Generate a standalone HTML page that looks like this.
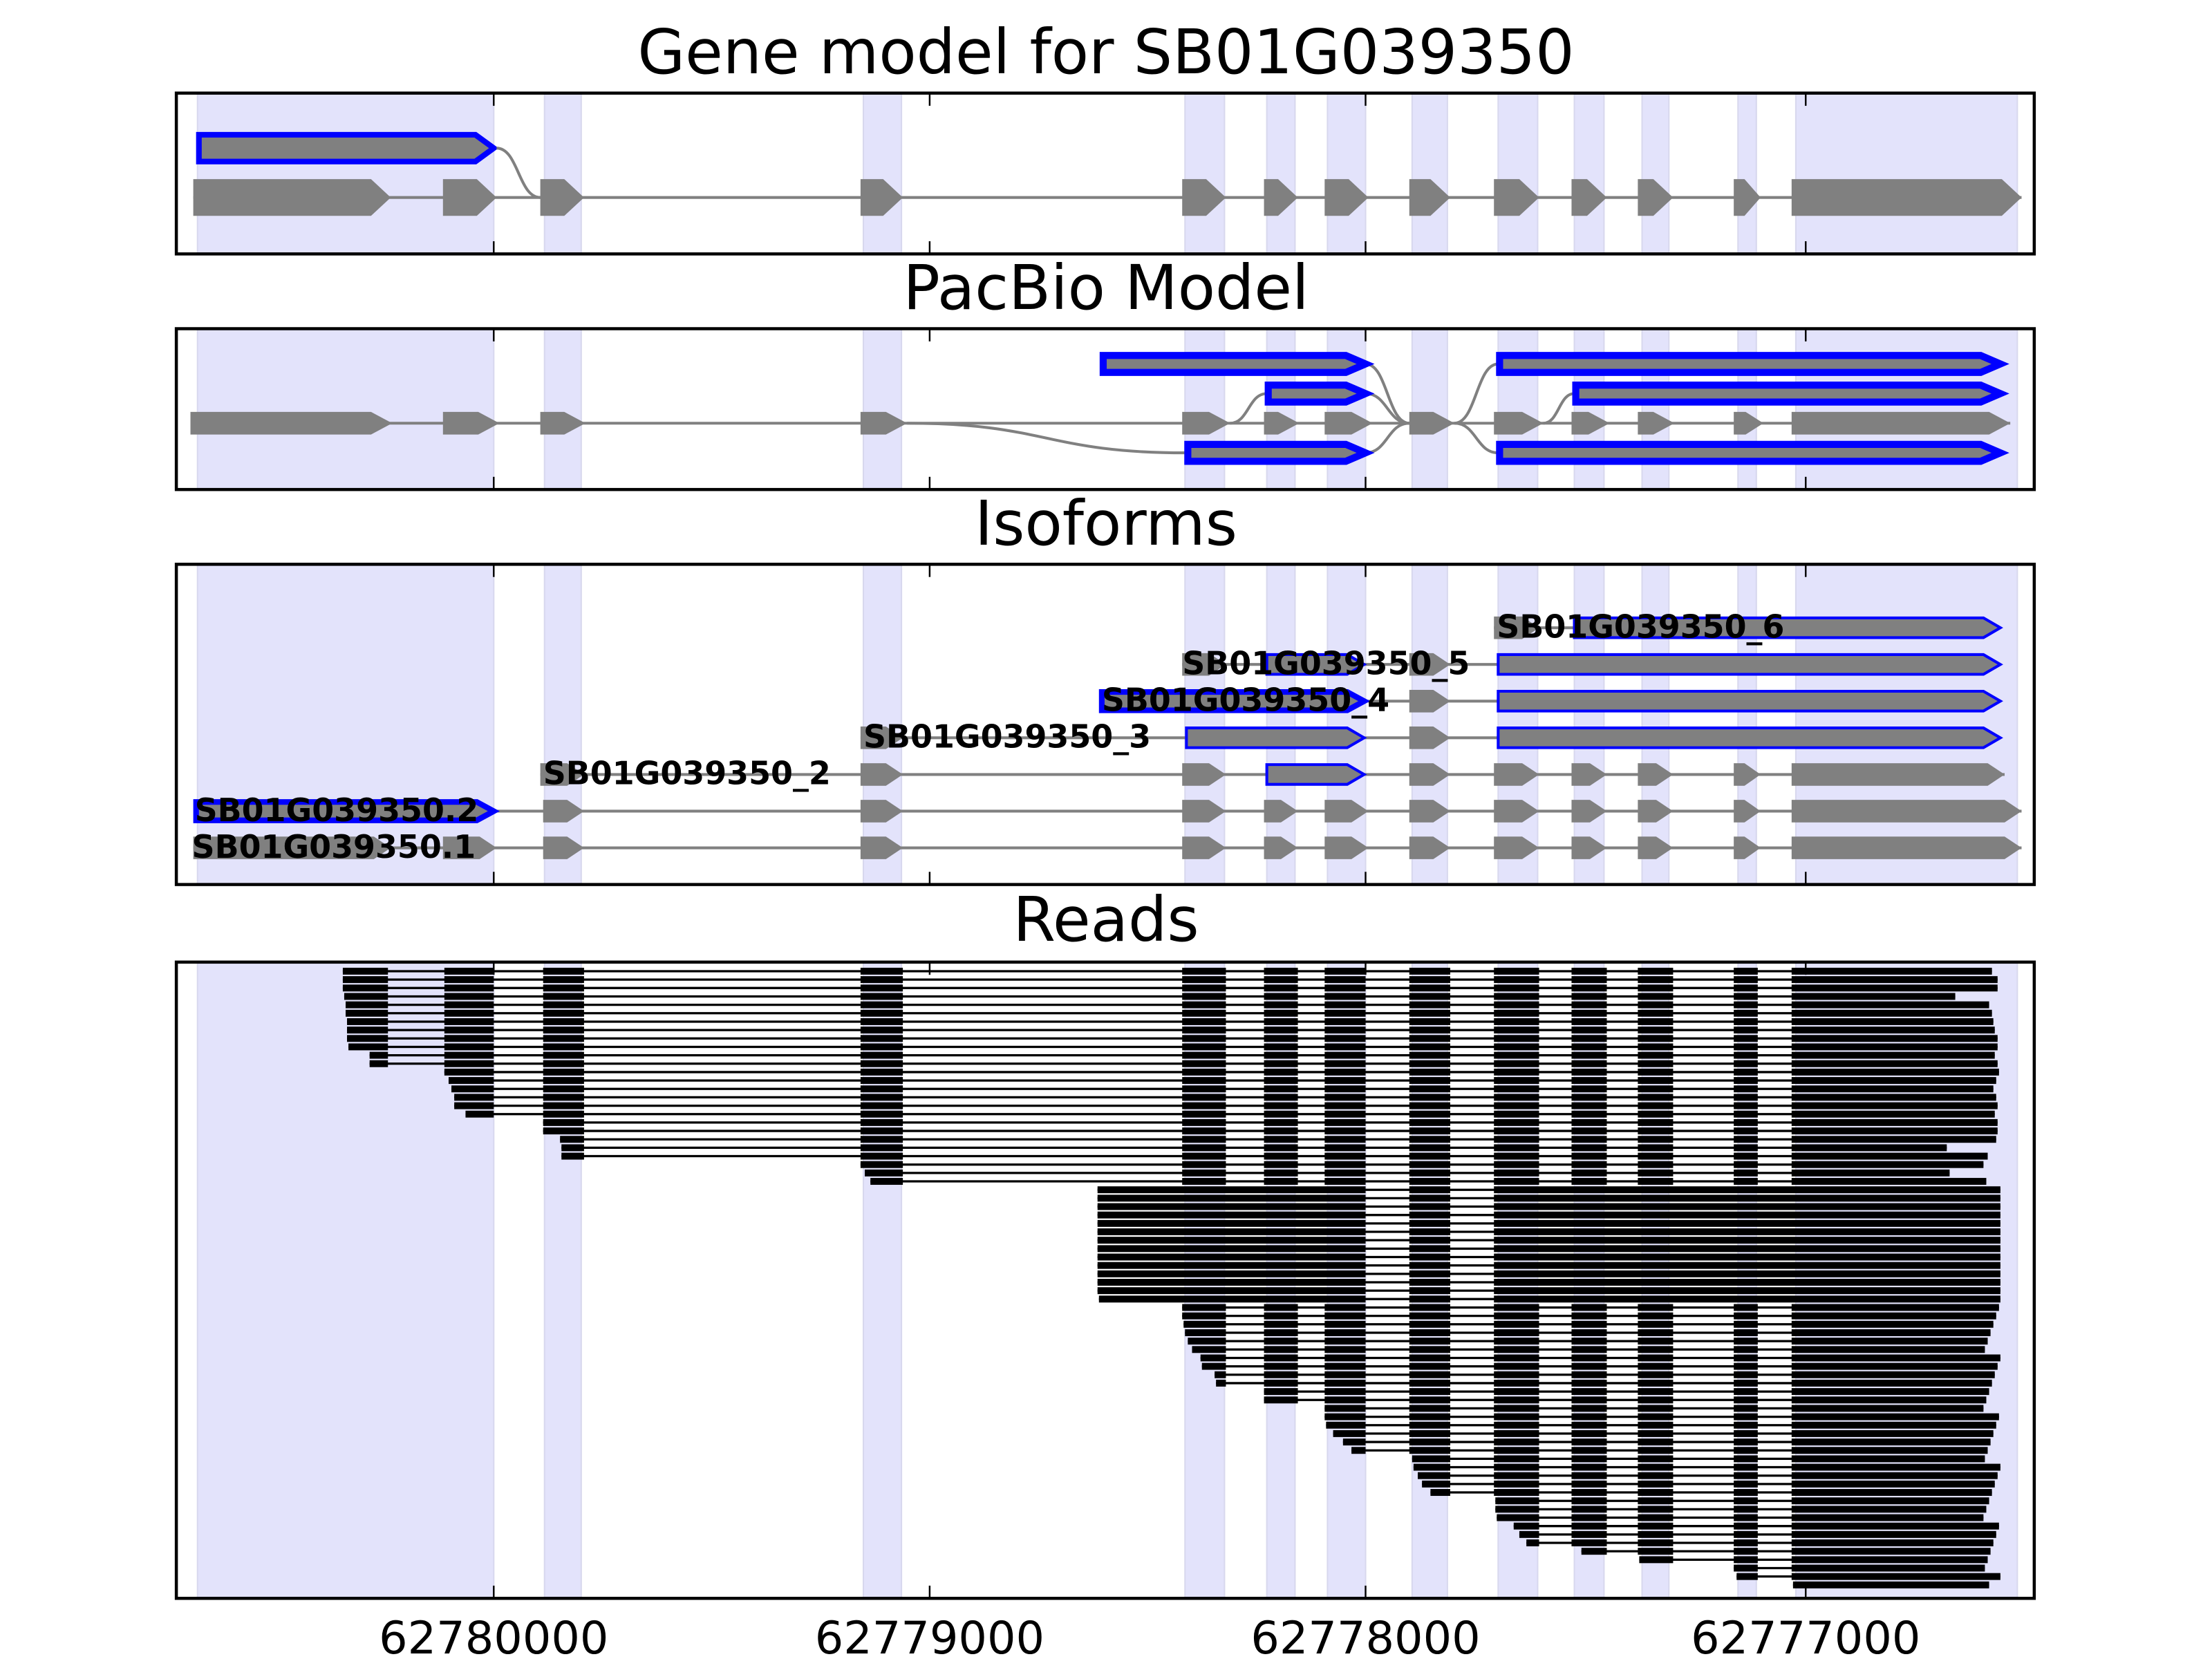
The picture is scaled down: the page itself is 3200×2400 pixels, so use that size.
<!DOCTYPE html>
<html><head><meta charset="utf-8"><style>
html,body{margin:0;padding:0;background:#fff;}
svg{display:block;}
text{font-family:"DejaVu Sans","Liberation Sans",sans-serif;}
</style></head><body>
<svg id="s" width="3200" height="2400" viewBox="0 0 1568 1176" xmlns="http://www.w3.org/2000/svg">
<rect width="1568" height="1176" fill="#fff"/>
<g id="g"></g>
<text x="784" y="52" font-size="43.5" text-anchor="middle">Gene model for SB01G039350</text>
<text x="784" y="219" font-size="43.5" text-anchor="middle">PacBio Model</text>
<text x="784" y="386" font-size="43.5" text-anchor="middle">Isoforms</text>
<text x="784" y="667" font-size="43.5" text-anchor="middle">Reads</text>
<text x="350" y="1172" font-size="32" text-anchor="middle">62780000</text>
<text x="659" y="1172" font-size="32" text-anchor="middle">62779000</text>
<text x="968" y="1172" font-size="32" text-anchor="middle">62778000</text>
<text x="1280" y="1172" font-size="32" text-anchor="middle">62777000</text>
</svg>
<script>
var o='';
var shade=[[140,350],[386,412],[612,639],[840,868],[898,918],[941,968],[1001,1026],[1062,1090],[1116,1137],[1164,1183],[1232,1245],[1273,1430]];
var panels=[[66,180],[233,347],[400,627],[682,1133]];
var G='#808080',B='#0000ff';
function arrow(x1,x2,yc,h,tip,fill,stroke,sw){
 tip=Math.min(tip,(x2-x1)*0.6);
 var p=[[x1,yc-h/2],[x2-tip,yc-h/2],[x2,yc],[x2-tip,yc+h/2],[x1,yc+h/2]].map(function(a){return a[0]+','+a[1]}).join(' ');
 o+='<polygon points="'+p+'" fill="'+fill+'"'+(stroke?' stroke="'+stroke+'" stroke-width="'+sw+'" stroke-linejoin="miter"':'')+'/>';
}
function line(x1,x2,y,c,w){o+='<line x1="'+x1+'" x2="'+x2+'" y1="'+y+'" y2="'+y+'" stroke="'+(c||G)+'" stroke-width="'+(w||2)+'"/>';}
function curve(x1,y1,x2,y2){var m=(x1+x2)/2;o+='<path d="M'+x1+','+y1+' C'+m+','+y1+' '+m+','+y2+' '+x2+','+y2+'" fill="none" stroke="'+G+'" stroke-width="2"/>';}
function rect(x,y,w,h,c){o+='<rect x="'+x+'" y="'+y+'" width="'+w+'" height="'+h+'" fill="'+c+'"/>';}
panels.forEach(function(p){shade.forEach(function(s){o+='<rect x="'+s[0]+'" y="'+p[0]+'" width="'+(s[1]-s[0])+'" height="'+(p[1]-p[0])+'" fill="#e3e3fb" stroke="#d8d8ee" stroke-width="1"/>';});});
var full=[[137,277],[314,352],[383,414],[610,640],[838,869],[896,920],[939,970],[999,1028],[1059,1091],[1114,1139],[1161,1186],[1229,1248],[1270,1433]];
line(137,1433,140);
full.forEach(function(e){arrow(e[0],e[1],140,26,14,G);});
arrow(141,350,105,19,13,G,B,4);
curve(352,105,383,140);
var p2=[[135,278],[314,354],[383,415],[610,643],[838,872],[896,921],[939,973],[999,1031],[1059,1094],[1114,1141],[1161,1187],[1229,1250],[1270,1425]];
line(135,1425,300);
p2.forEach(function(e){arrow(e[0],e[1],300,16,15,G);});
curve(643,300,840,321);curve(872,300,898,279);
curve(968,258,999,300);curve(968,279,999,300);curve(968,321,999,300);
curve(1031,300,1062,258);curve(1031,300,1062,321);curve(1094,300,1116,279);
arrow(782,968,258,12,14,G,B,5);
arrow(899,968,279,12,14,G,B,5);
arrow(842,968,321,12,14,G,B,5);
arrow(1063,1418,258,12,14,G,B,5);
arrow(1117,1418,279,12,14,G,B,5);
arrow(1063,1418,321,12,14,G,B,5);
function iso(y,ex,lab,lx){
 var a=ex[0][0],b=ex[ex.length-1][1];line(a,b,y);
 ex.forEach(function(e){ if(e[2]) arrow(e[0],e[1],y,e[2]==2?13:14,12,G,B,e[2]==2?4:2); else arrow(e[0],e[1],y,16,12,G);});
 o+='<text x="'+lx+'" y="'+(y+7)+'" font-size="22.5" font-weight="bold">'+lab+'</text>';
}
var tail=[[999,1028],[1059,1091],[1114,1139],[1161,1186],[1229,1248]];
iso(601,[[137,277],[314,352],[385,414],[610,640],[838,869],[896,920],[939,970]].concat(tail,[[1270,1433]]),'SB01G039350.1',136);
iso(575,[[139,350,2],[385,414],[610,640],[838,869],[896,920],[939,970]].concat(tail,[[1270,1433]]),'SB01G039350.2',138);
iso(549,[[383,414],[610,640],[838,869],[898,967,1]].concat(tail,[[1270,1421]]),'SB01G039350_2',385);
iso(523,[[610,640],[841,967,1],[999,1028],[1062,1418,1]],'SB01G039350_3',612);
iso(497,[[781,967,2],[999,1028],[1062,1418,1]],'SB01G039350_4',781);
iso(471,[[838,869],[898,967,1],[999,1028],[1062,1418,1]],'SB01G039350_5',838);
iso(445,[[1059,1091],[1116,1418,1]],'SB01G039350_6',1061);
var std=[[315,350],[385,414],[610,640],[838,869],[896,920],[939,968],[999,1028],[1059,1091],[1114,1139],[1161,1186],[1229,1246],[1270,9999]];
var longEx=[[778,968],[999,1028],[1059,9999]];
var starts=[243,243,243,244,245,245,246,246,246,247,262,262,315,318,320,322,322,330,385,385,397,398,398,610,613,617];
var rows=[];
starts.forEach(function(s){rows.push({ex:std,s:s});});
for(var i=0;i<14;i++)rows.push({ex:longEx,s:(i==13?779:778)});
[838,838,839,840,842,845,851,852,861,862].forEach(function(s){rows.push({ex:std,s:s});});
[896,896,939,939,940,945,952,958].forEach(function(s){rows.push({ex:std,s:s});});
[1001,1002,1005,1008,1014,1060,1060,1061,1073,1077,1082].forEach(function(s){rows.push({ex:std,s:s});});
[1121,1162,1229,1231].forEach(function(s){rows.push({ex:std,s:s});});
rows.push({ex:std,s:1271});
var ends=[1412,1416,1416,1386,1410,1412,1413,1414,1416,1416,1414,1416,1417,1415,1413,1415,1416,1414,1416,1416,1415,1380,1409,1406,1382,1408];
var n=rows.length,pitch=(1127-686)/n;
rows.forEach(function(r,i){
 var y=686+i*pitch, h=pitch*0.82;
 var e=(i<ends.length)?ends[i]:(1406+((i*37)%13));
 if(i>=26&&i<40)e=1418;
 if(i==n-1)e=1410;
 var segs=[];
 r.ex.forEach(function(x){var a=Math.max(x[0],r.s),b=Math.min(x[1],e);if(b>a&&x[1]>r.s)segs.push([a,b]);});
 if(r.s<315&&r.ex===std)segs.unshift([r.s,275]);
 if(!segs.length)return;
 line(segs[0][0],segs[segs.length-1][1],y+h/2,'#000',1.6);
 segs.forEach(function(sg){rect(sg[0],y,sg[1]-sg[0],h,'#000');});
});
var tx=[350,659,968,1280];
panels.forEach(function(p){
 tx.forEach(function(x){o+='<line x1="'+x+'" x2="'+x+'" y1="'+p[0]+'" y2="'+(p[0]+9)+'" stroke="#000" stroke-width="1.2"/><line x1="'+x+'" x2="'+x+'" y1="'+(p[1]-9)+'" y2="'+p[1]+'" stroke="#000" stroke-width="1.2"/>';});
 o+='<rect x="125" y="'+p[0]+'" width="1317" height="'+(p[1]-p[0])+'" fill="none" stroke="#000" stroke-width="2.2"/>';
});
document.getElementById('g').innerHTML=o;
</script>
</body></html>
